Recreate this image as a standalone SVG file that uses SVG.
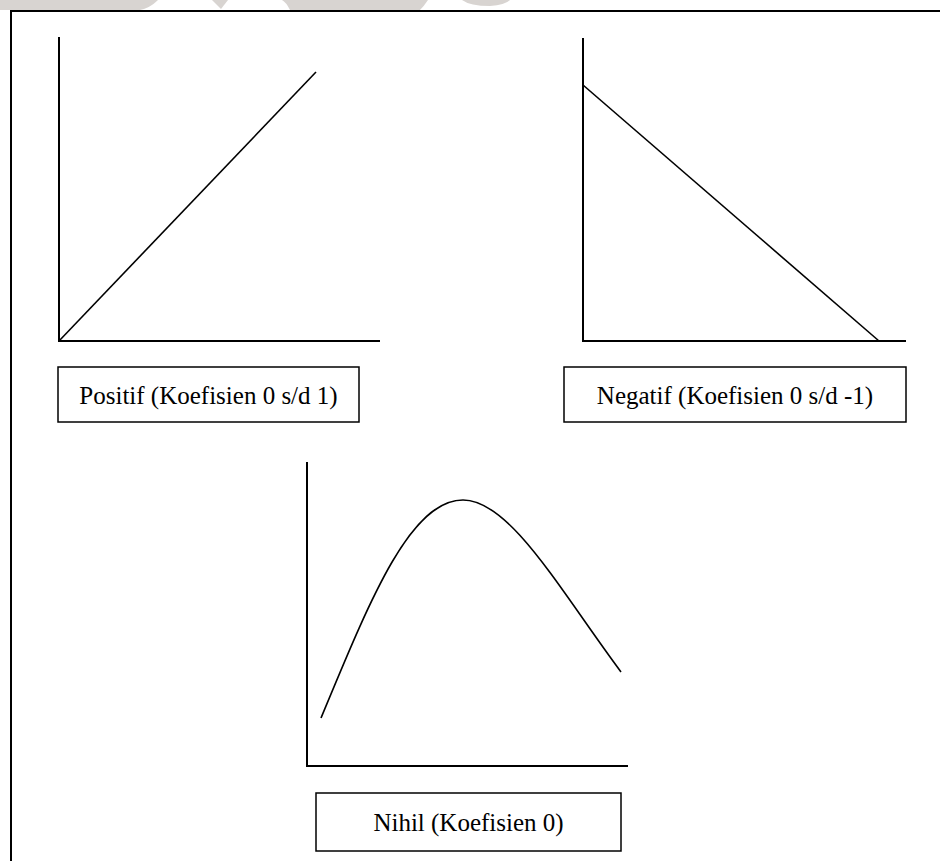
<svg xmlns="http://www.w3.org/2000/svg" width="940" height="861" viewBox="0 0 940 861">
<style>
.ax{stroke:#000;stroke-width:2;fill:none}
.ln{stroke:#000;stroke-width:1.6;fill:none}
.box{stroke:#000;stroke-width:1.5;fill:#fff}
.lbl{font-family:"Liberation Serif","Times New Roman",serif;font-size:25px;fill:#000;text-anchor:middle}
.wm{fill:#d8d4d1}
</style>
<rect width="940" height="861" fill="#fff"/>
<g id="watermark">
<path class="wm" d="M0,0 H158 Q150,8 140,10 H0 Z"/>
<path class="wm" d="M290,10 Q286,2 282,0 H428 Q424,6 420,10 Z"/>
<path class="wm" d="M212,0 H228 L221,9 Z" fill="#f3d6d8"/>
<path class="wm" d="M462,0 H510 Q505,5 490,6 Q470,6 462,0 Z" fill="#e8e6e4"/>
</g>
<g id="frame">
<path class="ax" d="M11,861 V11 H940"/>
</g>
<g id="chart-positif">
<path class="ax" d="M59,37 V341 H380"/>
<path class="ln" d="M59,341 L316,72"/>
</g>
<g id="chart-negatif">
<path class="ax" d="M583,38 V341 H906"/>
<path class="ln" d="M583,85 L879,341"/>
</g>
<g id="chart-nihil">
<path class="ax" d="M307,462 V766 H628"/>
<path class="ln" d="M321,718 C370,600 410,500 463,500 C510,500 560,590 621,672"/>
</g>
<g id="label-positif">
<rect class="box" x="58" y="367" width="301" height="55"/>
<text class="lbl" x="208.5" y="404">Positif (Koefisien 0 s/d 1)</text>
</g>
<g id="label-negatif">
<rect class="box" x="564" y="367" width="342" height="55"/>
<text class="lbl" x="735" y="404">Negatif (Koefisien 0 s/d -1)</text>
</g>
<g id="label-nihil">
<rect class="box" x="316" y="793" width="305" height="58"/>
<text class="lbl" x="468.5" y="831">Nihil (Koefisien 0)</text>
</g>
</svg>
